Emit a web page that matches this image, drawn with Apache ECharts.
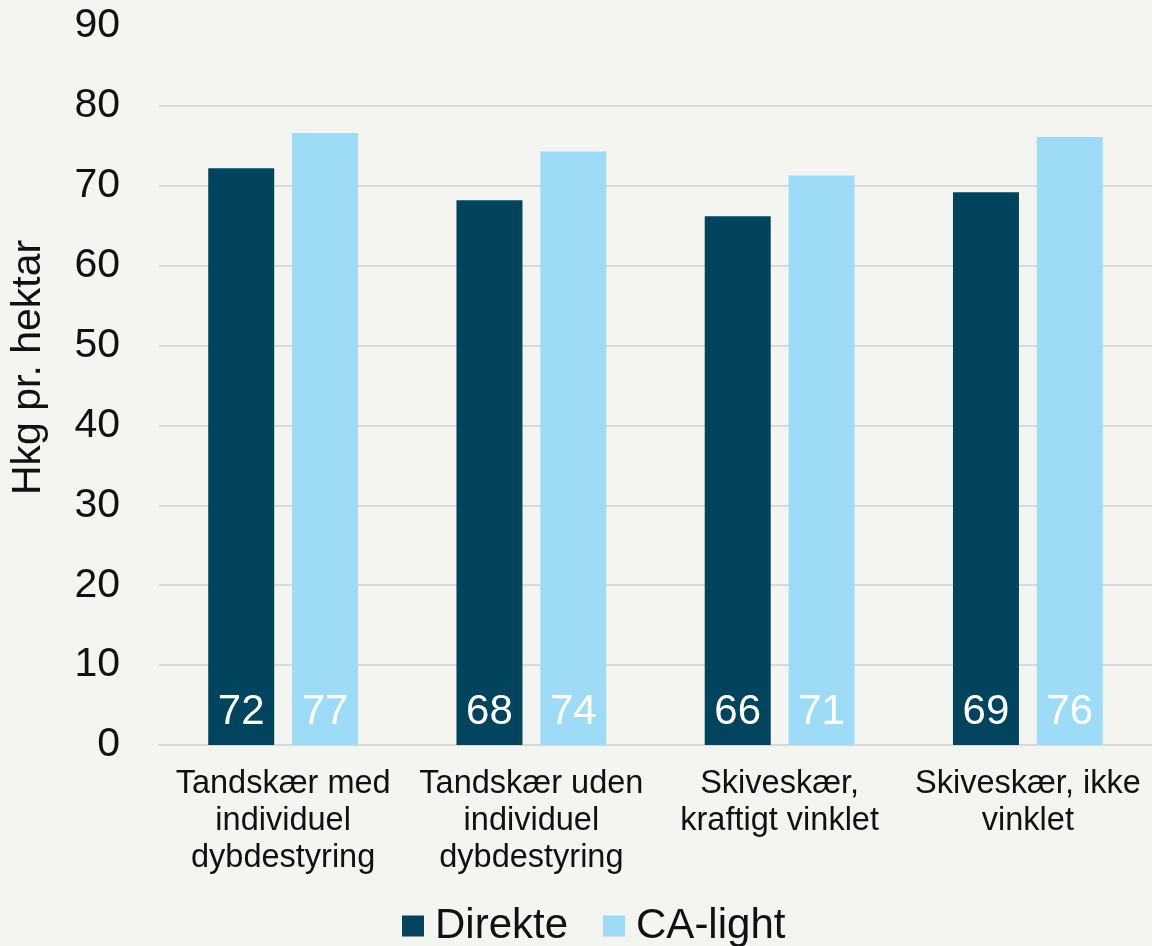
<!DOCTYPE html>
<html>
<head>
<meta charset="utf-8">
<script src="https://cdn.jsdelivr.net/npm/echarts@6/dist/echarts.min.js"></script>
<style>
  html, body { margin: 0; padding: 0; background: #f4f4f0; }
  #main { width: 1152px; height: 946px; }
</style>
</head>
<body>
<div id="main"></div>
<script>
var categories = [
  'Tandskær med\nindividuel\ndybdestyring',
  'Tandskær uden\nindividuel\ndybdestyring',
  'Skiveskær,\nkraftigt vinklet',
  'Skiveskær, ikke\nvinklet'
]
var direkte = [72.2, 68.2, 66.2, 69.2]
var caLight = [76.6, 74.3, 71.3, 76.1]
var seriesNames = ['Direkte', 'CA-light']

var font = 'Liberation Sans, Arial, sans-serif'
var myChart = echarts.init(document.getElementById('main'))

function valueLabel () {
  return {
    show: true,
    position: 'insideBottom',
    distance: 12,
    color: '#ffffff',
    fontSize: 42,
    fontFamily: font,
    formatter: function (p) { return Math.round(p.value) }
  }
}

var option = {
  backgroundColor: '#f4f4f0',
  animation: false,
  legend: {
    data: seriesNames,
    left: 397,
    top: 900,
    icon: 'rect',
    itemWidth: 22,
    itemHeight: 21,
    itemGap: 35,
    textStyle: { fontSize: 42, color: '#111', fontFamily: font, padding: [0, 0, 0, 6] }
  },
  grid: { left: 159, right: -11, top: 26, bottom: 201 },
  xAxis: {
    type: 'category',
    data: categories,
    axisTick: { show: false },
    axisLine: { lineStyle: { color: '#d9d9d9', width: 2 } },
    axisLabel: {
      interval: 0,
      margin: 21,
      fontSize: 32.5,
      lineHeight: 37,
      color: '#111',
      fontFamily: font
    }
  },
  yAxis: {
    type: 'value',
    min: 0,
    max: 90,
    interval: 10,
    name: 'Hkg pr. hektar',
    nameLocation: 'middle',
    nameGap: 110,
    nameTextStyle: { fontSize: 41, color: '#111', fontFamily: font, padding: [0, 0, 0, 36] },
    axisLine: { show: false },
    axisTick: { show: false },
    axisLabel: { margin: 39, fontSize: 41, color: '#111', fontFamily: font },
    splitLine: {
      lineStyle: {
        width: 2,
        color: ['#d9d9d9', '#d9d9d9', '#d9d9d9', '#d9d9d9', '#d9d9d9',
                '#d9d9d9', '#d9d9d9', '#d9d9d9', '#d9d9d9', 'rgba(0,0,0,0)']
      }
    }
  },
  series: [
    {
      name: seriesNames[0],
      type: 'bar',
      data: direkte,
      barWidth: 66,
      barGap: '27%',
      itemStyle: { color: '#02445e' },
      label: valueLabel()
    },
    {
      name: seriesNames[1],
      type: 'bar',
      data: caLight,
      barWidth: 66,
      itemStyle: { color: '#9ddbf6' },
      label: valueLabel()
    }
  ]
}
myChart.setOption(option)
</script>
</body>
</html>
